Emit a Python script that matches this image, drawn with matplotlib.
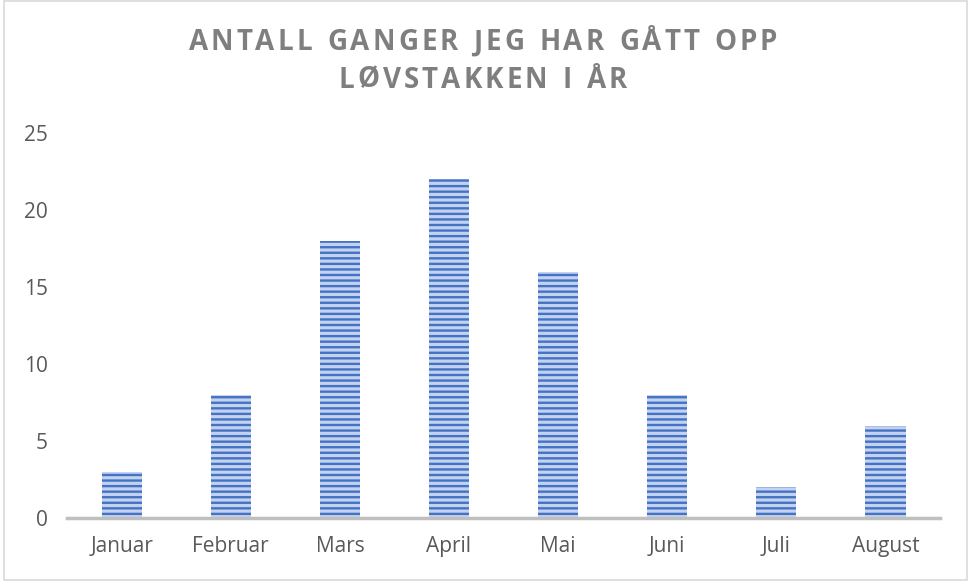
import numpy as np
import matplotlib.pyplot as plt
from matplotlib.patches import Rectangle

months = ['Januar', 'Februar', 'Mars', 'April', 'Mai', 'Juni', 'Juli', 'August']
counts = [3, 8, 18, 22, 16, 8, 2, 6]
title_lines = ['ANTALL GANGER JEG HAR GÅTT OPP', 'LØVSTAKKEN I ÅR']

plt.rcParams['font.family'] = ['Open Sans', 'DejaVu Sans']
plt.rcParams['hatch.linewidth'] = 1.7

fig = plt.figure(figsize=(9.73, 5.85), dpi=100)
ax = fig.add_axes([0.069, 0.1145, 0.897, 0.658])

x = np.arange(len(months))
ax.bar(x, counts, width=0.37, color='#c3d2ef', edgecolor='#4472c4', linewidth=0, hatch='---')

ax.set_xlim(-0.5, len(months) - 0.5)
ax.set_ylim(0, 25)
ax.set_yticks(range(0, 26, 5))
ax.set_xticks(x)
ax.set_xticklabels(months)
for s in ['top', 'right', 'left']:
    ax.spines[s].set_visible(False)
ax.spines['bottom'].set_color('#bfbfbf')
ax.spines['bottom'].set_linewidth(2.5)
ax.tick_params(axis='both', length=0, labelsize=15, labelcolor='#595959')
ax.tick_params(axis='y', pad=14)
ax.tick_params(axis='x', pad=13)

# tittel med ekstra bokstavavstand, tegnet tegn for tegn
renderer = fig.canvas.get_renderer()
spacing = 3.0  # px mellom bokstaver
for line, ypix in zip(title_lines, [43, 80]):
    widths = []
    for ch in line:
        t = fig.text(0, 0, ch if ch != ' ' else 'n', fontsize=20, fontweight='bold')
        w = t.get_window_extent(renderer).width
        if ch == ' ':
            w *= 0.5
        widths.append(w)
        t.remove()
    total = sum(widths) + spacing * (len(line) - 1)
    xpos = 483 - total / 2
    for ch, w in zip(line, widths):
        if ch != ' ':
            fig.text(xpos / 973, 1 - ypix / 585, ch, fontsize=20, fontweight='bold',
                     color='#7f7f7f', ha='left', va='center')
        xpos += w + spacing

fig.patches.append(Rectangle((0.004, 0.008), 0.99, 0.99, transform=fig.transFigure,
                             fill=False, edgecolor='#d9d9d9', linewidth=1.2))

fig.savefig('out.png', dpi=100)
